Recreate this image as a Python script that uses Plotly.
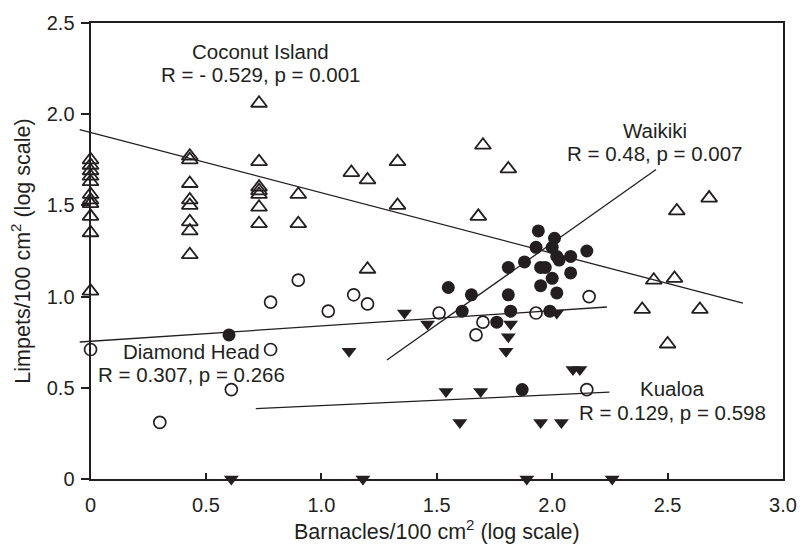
import plotly.graph_objects as go

INK = "#231f20"
FONT = "Liberation Sans, Arial, Helvetica, sans-serif"

# ---------------- data (log10 densities) ----------------
# Coconut Island: open up-triangles
coconut_x = [0, 0, 0, 0, 0, 0, 0, 0, 0, 0, 0,
             0.43, 0.43, 0.43, 0.43, 0.43, 0.43, 0.43, 0.43,
             0.73, 0.73, 0.73, 0.73, 0.73, 0.73, 0.73,
             0.90, 0.90,
             1.13, 1.20, 1.33, 1.33, 1.20, 1.70, 1.81, 1.68,
             2.44, 2.53, 2.54, 2.68, 2.39, 2.64, 2.50]
coconut_y = [1.75, 1.72, 1.69, 1.66, 1.63, 1.56, 1.53, 1.51, 1.44, 1.35, 1.03,
             1.77, 1.75, 1.62, 1.53, 1.50, 1.41, 1.36, 1.23,
             2.06, 1.74, 1.60, 1.58, 1.56, 1.49, 1.40,
             1.56, 1.40,
             1.68, 1.64, 1.74, 1.50, 1.15, 1.83, 1.70, 1.44,
             1.09, 1.10, 1.47, 1.54, 0.93, 0.93, 0.74]

# Diamond Head: open circles
diamond_x = [0, 0.30, 0.61, 0.78, 0.78, 0.90, 1.03, 1.14, 1.20, 1.51, 1.70, 1.67, 1.93, 2.16, 2.15]
diamond_y = [0.71, 0.31, 0.49, 0.97, 0.71, 1.09, 0.92, 1.01, 0.96, 0.91, 0.86, 0.79, 0.91, 1.00, 0.49]

# Waikiki: filled circles
waikiki_x = [0.60, 1.55, 1.61, 1.65, 1.76, 1.81, 1.82, 1.81, 1.88, 1.87, 1.93, 1.94, 1.95,
             1.95, 2.00, 2.01, 2.02, 2.00, 2.02, 1.99, 2.08, 2.08, 2.15, 2.03, 1.97]
waikiki_y = [0.79, 1.05, 0.92, 1.01, 0.86, 1.01, 0.92, 1.16, 1.19, 0.49, 1.27, 1.36, 1.16,
             1.06, 1.27, 1.32, 1.22, 1.10, 1.02, 0.92, 1.22, 1.13, 1.25, 1.20, 1.16]

# Kualoa: filled down-triangles
kualoa_x = [1.12, 1.36, 1.46, 1.54, 1.60, 1.69, 1.82, 1.81, 1.80, 1.95, 2.02, 2.04, 2.09, 2.12,
            0.61, 1.18, 1.89, 2.26]
kualoa_y = [0.70, 0.91, 0.85, 0.48, 0.31, 0.48, 0.85, 0.78, 0.70, 0.31, 0.91, 0.31, 0.60, 0.60,
            0.0, 0.0, 0.0, 0.0]

# Regression lines (end points)
coconut_fit_x = [-0.047, 2.826]
coconut_fit_y = [1.916, 0.964]
diamond_fit_x = [-0.047, 2.237]
diamond_fit_y = [0.751, 0.943]
waikiki_fit_x = [1.284, 2.45]
waikiki_fit_y = [0.652, 1.697]
kualoa_fit_x = [0.716, 2.248]
kualoa_fit_y = [0.386, 0.476]

# Labels
label_text = ["Coconut Island", "R = - 0.529, p = 0.001",
              "Waikiki", "R = 0.48, p = 0.007",
              "Diamond Head", "R = 0.307, p = 0.266",
              "Kualoa", "R = 0.129, p = 0.598"]
label_x = [0.735, 0.735, 2.447, 2.447, 0.438, 0.438, 2.52, 2.52]
label_y = [2.345, 2.215, 1.913, 1.783, 0.70, 0.571, 0.496, 0.366]

x_ticks = [0, 0.5, 1.0, 1.5, 2.0, 2.5, 3.0]
x_ticktext = ["0", "0.5", "1.0", "1.5", "2.0", "2.5", "3.0"]
y_ticks = [0, 0.5, 1.0, 1.5, 2.0, 2.5]
y_ticktext = ["0", "0.5", "1.0", "1.5", "2.0", "2.5"]

X_RANGE = [0, 3.0]
Y_RANGE = [0, 2.5]
X_EXT = -0.05  # fit lines start slightly left of the y axis

# ---------------- figure ----------------
fig = go.Figure()

fig.add_trace(go.Scatter(
    x=diamond_x, y=diamond_y, mode="markers", cliponaxis=False,
    marker=dict(symbol="circle-open", size=12, color=INK, line=dict(width=1.7, color=INK))))
fig.add_trace(go.Scatter(
    x=coconut_x, y=coconut_y, mode="markers", cliponaxis=False,
    marker=dict(symbol="triangle-up-open", size=14, color=INK, line=dict(width=1.8, color=INK))))
fig.add_trace(go.Scatter(
    x=kualoa_x, y=kualoa_y, mode="markers", cliponaxis=False,
    marker=dict(symbol="triangle-down", size=13, color=INK, line=dict(width=0))))
fig.add_trace(go.Scatter(
    x=waikiki_x, y=waikiki_y, mode="markers", cliponaxis=False,
    marker=dict(symbol="circle", size=13, color=INK, line=dict(width=0))))

for fx, fy in [(coconut_fit_x, coconut_fit_y), (diamond_fit_x, diamond_fit_y),
               (waikiki_fit_x, waikiki_fit_y), (kualoa_fit_x, kualoa_fit_y)]:
    fig.add_trace(go.Scatter(x=fx, y=fy, mode="lines", xaxis="x2", yaxis="y2",
                             line=dict(color=INK, width=1.3)))

for t, lx, ly in zip(label_text, label_x, label_y):
    fig.add_annotation(x=lx, y=ly, xref="x", yref="y", text=t, showarrow=False,
                       xanchor="center", yanchor="middle",
                       font=dict(family=FONT, size=20.5, color=INK))

dom0 = (X_RANGE[0] - X_EXT) / (X_RANGE[1] - X_EXT)

axis_common = dict(showline=True, linecolor=INK, linewidth=2, mirror=True,
                   showgrid=False, zeroline=False, tickcolor=INK, tickwidth=1.6,
                   tickfont=dict(family=FONT, size=20, color=INK))

fig.update_layout(
    width=809, height=545,
    margin=dict(l=79, r=13, t=16, b=65),
    paper_bgcolor="white", plot_bgcolor="rgba(0,0,0,0)",
    showlegend=False,
    font=dict(family=FONT, color=INK),
    xaxis=dict(domain=[dom0, 1], range=X_RANGE, tickvals=x_ticks, ticktext=x_ticktext,
               ticks="inside", ticklen=6, ticklabelstandoff=7,
               title=dict(text="Barnacles/100 cm<sup>2</sup> (log scale)",
                          font=dict(family=FONT, size=21.5, color=INK), standoff=2),
               **axis_common),
    yaxis=dict(range=Y_RANGE, tickvals=y_ticks, ticktext=y_ticktext,
               ticks="outside", ticklen=8, ticklabelstandoff=2,
               title=dict(text="Limpets/100 cm<sup>2</sup> (log scale)",
                          font=dict(family=FONT, size=21.5, color=INK), standoff=10),
               **axis_common),
    xaxis2=dict(domain=[0, 1], range=[X_EXT, X_RANGE[1]], visible=False, anchor="y2"),
    yaxis2=dict(domain=[0, 1], range=Y_RANGE, visible=False, anchor="x2"),
)

fig.write_html("out.html")
